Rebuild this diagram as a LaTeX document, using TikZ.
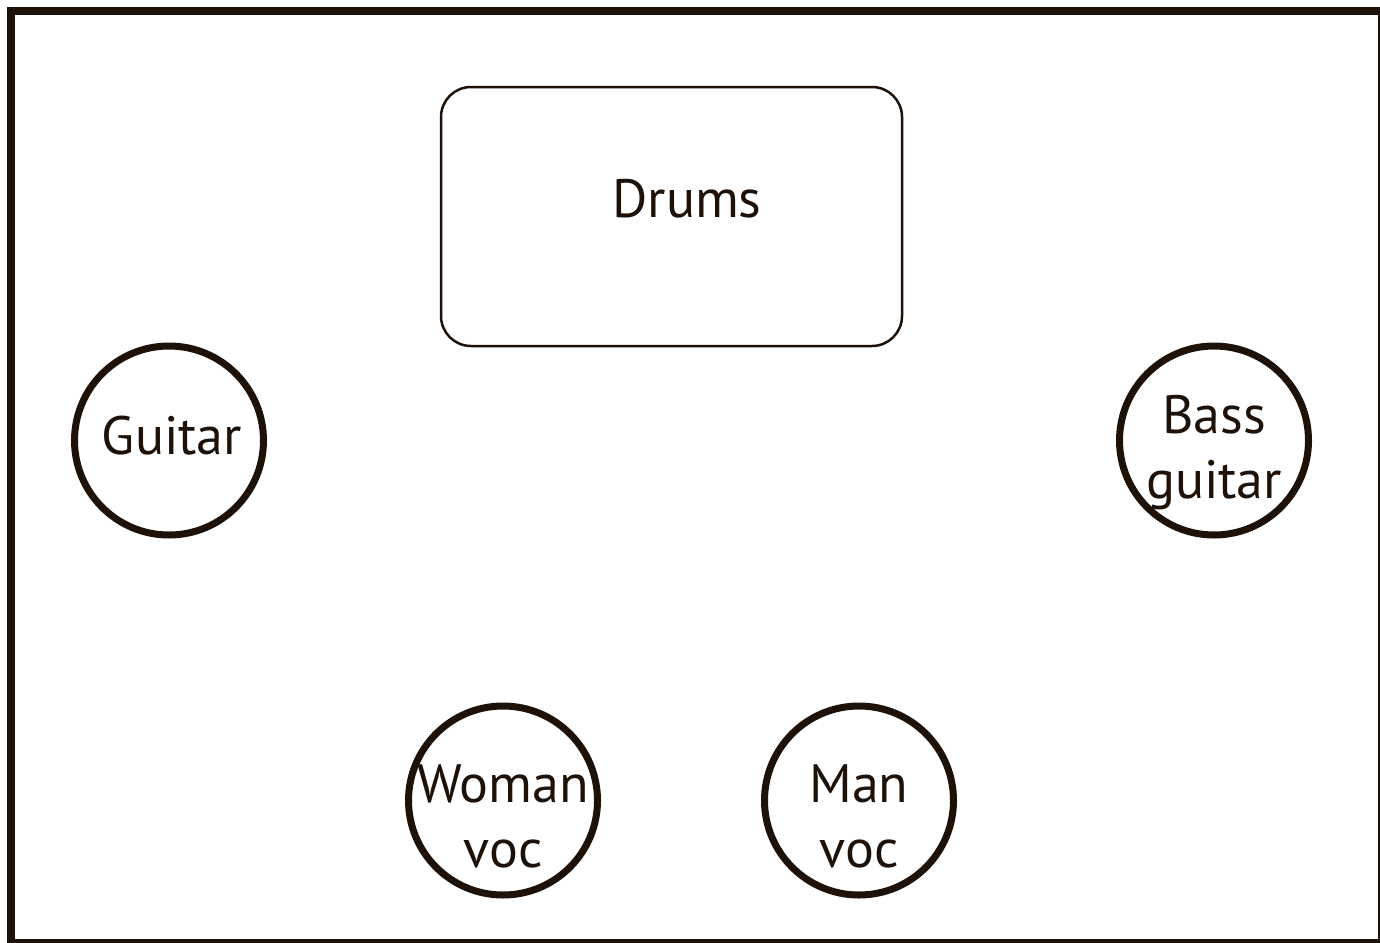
\documentclass[tikz,border=0pt]{standalone}
\usepackage{fontspec}
\setmainfont{PT Sans}
\definecolor{ink}{RGB}{30,18,8}
\tikzset{
  player/.style={circle,draw=ink,line width=7pt,minimum size=189pt,inner sep=0pt},
  kit/.style={draw=ink,line width=2.5pt,rounded corners=30pt,minimum width=461pt,minimum height=259pt},
  stagetext/.style={text=ink,align=center,font=\fontsize{54}{65}\selectfont}
}
\begin{document}
\begin{tikzpicture}[x=1pt,y=-1pt]
\useasboundingbox (0,0) rectangle (1380,942);
\clip (0,0) rectangle (1380,942);
% stage
\draw[ink,line width=8pt] (11,11) rectangle (1382,943);
% drums
\node[kit] (drums) at (671.5,216.5) {};
\node[stagetext] (drumstext) at (687,199) {Drums};
% players
\node[player] (guitar) at (169,440.5) {};
\node[player] (bass) at (1214,440.5) {};
\node[player] (woman) at (503,800.5) {};
\node[player] (man) at (859,800.5) {};
\node[stagetext] (guitartext) at (172,436) {Guitar};
\node[stagetext] (basstext) at (1214,453) {Bass\\guitar};
\node[stagetext] (womantext) at (503,816) {Woman\\voc};
\node[stagetext] (mantext) at (859,816) {Man\\voc};
\end{tikzpicture}
\end{document}
